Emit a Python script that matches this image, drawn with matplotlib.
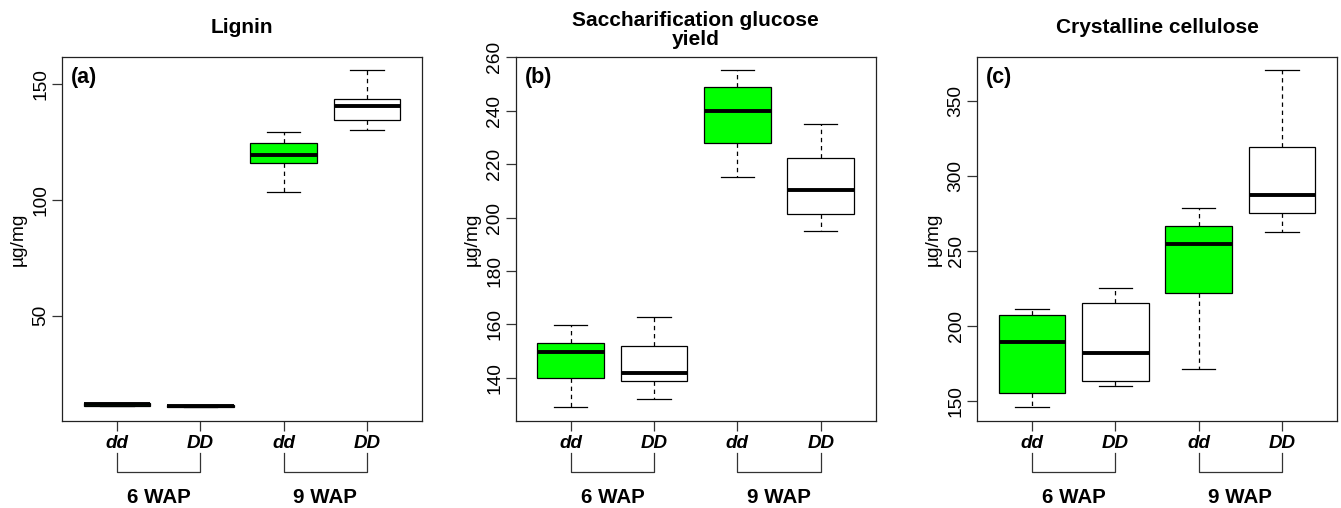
import matplotlib
matplotlib.use("Agg")
import matplotlib.pyplot as plt
import matplotlib.transforms as mtransforms

plt.rcParams['font.family'] = ['Liberation Sans', 'DejaVu Sans']

# genotype / stage labels
genotypes = ["dd", "DD", "dd", "DD"]
stages = ["6 WAP", "9 WAP"]
box_colors = ["#00ff00", "white", "#00ff00", "white"]

# Lignin (µg/mg)
lig_lo = [11.0, 10.4, 103.6, 130.3]
lig_q1 = [11.2, 10.6, 115.9, 134.7]
lig_med = [11.8, 10.9, 119.3, 140.5]
lig_q3 = [12.3, 11.4, 124.7, 143.5]
lig_hi = [12.5, 11.6, 129.3, 155.9]

# Saccharification glucose yield (µg/mg)
sac_lo = [128.8, 131.8, 215.1, 195.0]
sac_q1 = [139.8, 138.8, 227.9, 201.4]
sac_med = [149.5, 141.9, 240.0, 210.3]
sac_q3 = [152.9, 151.9, 248.9, 222.3]
sac_hi = [159.8, 162.9, 255.1, 235.1]

# Crystalline cellulose (µg/mg)
cel_lo = [145.8, 160.0, 171.4, 263.2]
cel_q1 = [155.4, 163.4, 222.3, 275.3]
cel_med = [189.2, 182.0, 254.8, 287.3]
cel_q3 = [207.8, 215.6, 266.6, 319.8]
cel_hi = [211.2, 225.4, 278.6, 370.7]

panels = [
    ("Lignin", "(a)", [lig_lo, lig_q1, lig_med, lig_q3, lig_hi], [50, 100, 150]),
    ("Saccharification glucose\nyield", "(b)", [sac_lo, sac_q1, sac_med, sac_q3, sac_hi],
     [140, 160, 180, 200, 220, 240, 260]),
    ("Crystalline cellulose", "(c)", [cel_lo, cel_q1, cel_med, cel_q3, cel_hi],
     [150, 200, 250, 300, 350]),
]

fig = plt.figure(figsize=(13.41, 5.08), dpi=100)
lefts = [0.0462, 0.3846, 0.7286]
width = 0.2685
bottom, top = 0.1713, 0.8878

for i, (title, tag, stats_arrays, yticks) in enumerate(panels):
    ax = fig.add_axes([lefts[i], bottom, width, top - bottom])
    lo, q1, med, q3, hi = stats_arrays
    stats = []
    for k in range(len(genotypes)):
        stats.append(dict(whislo=lo[k], q1=q1[k], med=med[k], q3=q3[k], whishi=hi[k], fliers=[]))
    bp = ax.bxp(stats, positions=[1, 2, 3, 4], widths=0.8, patch_artist=True,
                showfliers=False,
                boxprops=dict(edgecolor="black", linewidth=0.9),
                medianprops=dict(color="black", linewidth=2.8, solid_capstyle="butt"),
                whiskerprops=dict(color="black", linewidth=0.9, linestyle=(0, (3.5, 3))),
                capprops=dict(color="black", linewidth=0.9),
                capwidths=0.4)
    for patch, c in zip(bp["boxes"], box_colors):
        patch.set_facecolor(c)

    # R-style axis limits: 4% padding
    dmin, dmax = min(lo), max(hi)
    r = dmax - dmin
    ax.set_ylim(dmin - 0.04 * r, dmax + 0.04 * r)
    ax.set_xlim(0.34, 4.66)

    ax.set_yticks(yticks)
    ax.set_yticklabels([str(t) for t in yticks], rotation=90, va="center", fontsize=13.8)
    ax.set_xticks([1, 2, 3, 4])
    ax.set_xticklabels(genotypes, fontsize=13.5, fontweight="bold", fontstyle="italic")
    ax.tick_params(axis="both", direction="out", length=7, width=0.9, color="#333333")
    ax.tick_params(axis="y", pad=2)
    ax.tick_params(axis="x", pad=3)
    for sp in ax.spines.values():
        sp.set_linewidth(0.9)
        sp.set_color("#222222")

    ax.set_ylabel("µg/mg", fontsize=13.8, labelpad=4)

    ax.text(0.025, 0.945, tag, transform=ax.transAxes, fontsize=15.5,
            fontweight="bold", ha="left", va="center")

    lines = title.split("\n")
    if len(lines) == 1:
        ax.text(0.5, 1.082, title, transform=ax.transAxes, fontsize=15,
                fontweight="bold", ha="center", va="center")
    else:
        ax.text(0.5, 1.100, lines[0], transform=ax.transAxes, fontsize=15,
                fontweight="bold", ha="center", va="center")
        ax.text(0.5, 1.048, lines[1], transform=ax.transAxes, fontsize=15,
                fontweight="bold", ha="center", va="center")

    # stage brackets below the tick labels
    trans = mtransforms.blended_transform_factory(ax.transData, ax.transAxes)
    for j, stage in enumerate(stages):
        x0, x1 = 1 + 2 * j, 2 + 2 * j
        ax.plot([x0, x0, x1, x1], [-0.088, -0.140, -0.140, -0.088], transform=trans,
                color="#333333", linewidth=0.9, clip_on=False)
        ax.text((x0 + x1) / 2, -0.209, stage, transform=trans, fontsize=14.8,
                fontweight="bold", ha="center", va="center")

fig.savefig("out.png", dpi=100)
